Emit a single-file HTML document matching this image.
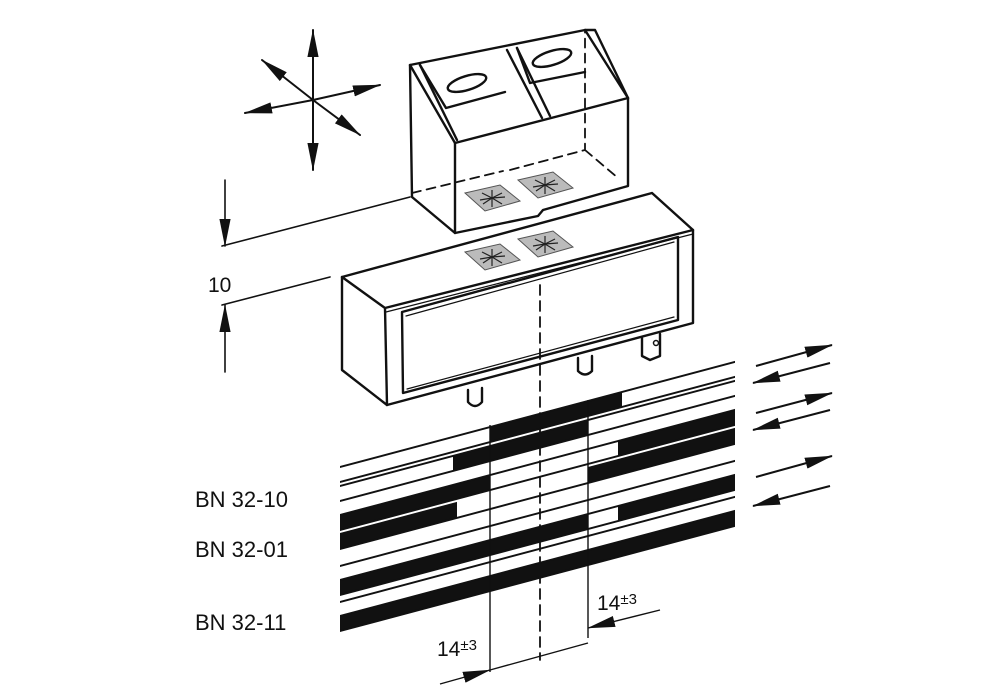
<!DOCTYPE html>
<html><head><meta charset="utf-8"><style>
html,body{margin:0;padding:0;background:#fff;}
svg{display:block}
text{font-family:"Liberation Sans",sans-serif;fill:#111}
</style></head><body>
<svg width="1000" height="691" viewBox="0 0 1000 691" xmlns="http://www.w3.org/2000/svg">
<defs>
<marker id="ah" viewBox="0 0 30 12" refX="29" refY="6" markerWidth="28" markerHeight="12" markerUnits="userSpaceOnUse" orient="auto">
<path d="M0,0 L30,6 L0,12 Z" fill="#111"/></marker>
<g id="sq"><path d="M0,0 L35,-8 L55,8 L20,18 Z" fill="#bbb" stroke="#555" stroke-width="1"/>
<g stroke="#222" stroke-width="1.2" fill="none"><path d="M27,5 l-10,-5 M27,5 l10,-5 M27,5 l-9,6 M27,5 l10,6 M27,5 l0,-8 M27,5 l0,9 M27,5 l-12,2 M27,5 l13,-1"/></g></g>
</defs>
<g stroke="#111" fill="none" stroke-linecap="round">
<line x1="313" y1="100" x2="313" y2="30" stroke-width="2" marker-end="url(#ah)"/>
<line x1="313" y1="100" x2="313" y2="170" stroke-width="2" marker-end="url(#ah)"/>
<line x1="313" y1="100" x2="245" y2="113" stroke-width="2" marker-end="url(#ah)"/>
<line x1="313" y1="100" x2="380" y2="85" stroke-width="2" marker-end="url(#ah)"/>
<line x1="313" y1="100" x2="262" y2="60" stroke-width="2" marker-end="url(#ah)"/>
<line x1="313" y1="100" x2="360" y2="135" stroke-width="2" marker-end="url(#ah)"/>

<line x1="225" y1="180" x2="225" y2="246" stroke-width="1.6" marker-end="url(#ah)"/>
<line x1="222" y1="246" x2="410" y2="197" stroke-width="1.6"/>
<line x1="222" y1="305" x2="330" y2="277" stroke-width="1.6"/>
<line x1="225" y1="372" x2="225" y2="305" stroke-width="1.6" marker-end="url(#ah)"/>

<g stroke-width="2.4" stroke-linejoin="round">
<path d="M410,65 L585,30 L628,98 L628,186 L543,210 L538,216 L455,233 L412,197 Z"/>
<path d="M410,65 L455,143 L628,98"/>
<path d="M455,143 L455,233"/>
<path d="M420,65 L457,140 M507,50 L542,118 M517,48 L550,116 M585,30 L595,30 L628,98"/>
<path d="M446,108 L505,92 M530,83 L585,72 M446,108 L420,65 M530,83 L517,48"/>
<ellipse cx="467" cy="83" rx="20" ry="7" transform="rotate(-17 467 83)"/>
<ellipse cx="552" cy="58" rx="20" ry="7" transform="rotate(-17 552 58)"/>
</g>
<g stroke-width="1.8" stroke-dasharray="9,6">
<path d="M412,193 L503,171 M510,170 L585,150 L585,30 M585,150 L618,178"/>
</g>
<g stroke-width="2.4" stroke-linejoin="round">
<path d="M342,277 L652,193 L693,230 L693,323 L387,405 L342,370 Z"/>
<path d="M342,277 L385,308 L693,230 M385,308 L387,405"/>
<path d="M386,312 L693,234" stroke-width="1.2"/>
<path d="M402,312 L678,237 L678,320 L403,393 Z"/>
<path d="M406,316 L674,242 M407,389 L674,317" stroke-width="1.2"/>
<path d="M468,390 L468,402 Q475,410 482,402 L482,388"/>
<path d="M578,358 L578,371 Q585,378 592,371 L592,356"/>
<path d="M642,338 L642,356 L650,360 L660,356 L660,334"/>
<circle cx="656" cy="343" r="2.5" stroke-width="1.5"/>
</g>
<path d="M540,285 L540,660" stroke-width="1.8" stroke-dasharray="10,6"/>
</g>
<use href="#sq" x="465" y="193"/>
<use href="#sq" x="518" y="180"/>
<use href="#sq" x="465" y="252"/>
<use href="#sq" x="518" y="239"/>

<g transform="translate(340,0) skewY(-14.9)">
<g fill="#111">
<rect x="150" y="467" width="132" height="15"/>
<rect x="113" y="486" width="135" height="15"/>
<rect x="0" y="515" width="150" height="15"/>
<rect x="278" y="515" width="117" height="15"/>
<rect x="0" y="533" width="117" height="16"/>
<rect x="248" y="533" width="147" height="16"/>
<rect x="0" y="580" width="248" height="15"/>
<rect x="278" y="580" width="117" height="15"/>
<rect x="0" y="616" width="395" height="15"/>
</g>
<g stroke="#111" stroke-width="2" fill="none">
<line x1="0" y1="467" x2="395" y2="467"/>
<line x1="0" y1="482" x2="395" y2="482"/>
<line x1="0" y1="486" x2="395" y2="486"/>
<line x1="0" y1="501" x2="395" y2="501"/>
<line x1="0" y1="515" x2="395" y2="515"/>
<line x1="0" y1="530" x2="395" y2="530"/>
<line x1="0" y1="549" x2="395" y2="549"/>
<line x1="0" y1="566" x2="395" y2="566"/>
<line x1="0" y1="580" x2="395" y2="580"/>
<line x1="0" y1="595" x2="395" y2="595"/>
<line x1="0" y1="602" x2="395" y2="602"/>
<line x1="0" y1="616" x2="395" y2="616"/>
<line x1="0" y1="631" x2="395" y2="631"/>
</g>
</g>
<g stroke="#111" stroke-width="1.4" fill="none">
<line x1="490" y1="425" x2="490" y2="672"/>
<line x1="588" y1="400" x2="588" y2="638"/>
<line x1="440" y1="684" x2="490" y2="670" marker-end="url(#ah)"/>
<line x1="490" y1="670" x2="588" y2="643"/>
<line x1="660" y1="610" x2="588" y2="628" marker-end="url(#ah)"/>
</g>
<g stroke="#111" stroke-width="2" fill="none">
<line x1="756" y1="366" x2="832" y2="345" marker-end="url(#ah)"/>
<line x1="830" y1="363" x2="753" y2="383" marker-end="url(#ah)"/>
<line x1="756" y1="413" x2="832" y2="393" marker-end="url(#ah)"/>
<line x1="830" y1="410" x2="753" y2="430" marker-end="url(#ah)"/>
<line x1="756" y1="477" x2="832" y2="456" marker-end="url(#ah)"/>
<line x1="830" y1="486" x2="753" y2="506" marker-end="url(#ah)"/>
</g>
<text x="208" y="292" font-size="21">10</text>
<text x="195" y="507" font-size="22">BN  32-10</text>
<text x="195" y="557" font-size="22">BN  32-01</text>
<text x="195" y="630" font-size="22">BN  32-11</text>
<text x="437" y="656" font-size="21">14<tspan font-size="15" dy="-6">±3</tspan></text>
<text x="597" y="610" font-size="21">14<tspan font-size="15" dy="-6">±3</tspan></text>
</svg>
</body></html>
